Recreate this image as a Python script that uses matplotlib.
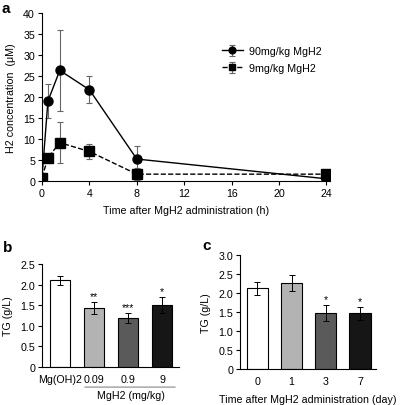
import matplotlib
matplotlib.use("Agg")
import matplotlib.pyplot as plt

plt.rcParams['font.family'] = ['Liberation Sans', 'DejaVu Sans']
plt.rcParams['font.size'] = 7.7

# panel a: H2 concentration time course
hours = [0, 0.5, 1.5, 4, 8, 24]
h2_90 = [0.8, 19.0, 26.3, 21.7, 5.2, 0.5]
h2_90_err = [0.0, 4.0, 9.6, 3.2, 3.1, 0.0]
h2_9 = [0.8, 5.5, 9.1, 7.0, 1.6, 1.6]
h2_9_err = [0.0, 0.0, 4.9, 1.8, 1.5, 0.0]

# panel b: TG by dose
dose_labels = ['Mg(OH)2', '0.09', '0.9', '9']
tg_dose = [2.10, 1.43, 1.20, 1.50]
tg_dose_err = [0.12, 0.15, 0.12, 0.20]
dose_stars = ['', '**', '***', '*']

# panel c: TG by day
day_labels = ['0', '1', '3', '7']
tg_day = [2.12, 2.27, 1.47, 1.47]
tg_day_err = [0.16, 0.21, 0.21, 0.17]
day_stars = ['', '', '*', '*']

bar_colors = ['white', '#b3b3b3', '#5a5a5a', '#161616']

fig = plt.figure(figsize=(4.0, 4.06), dpi=100)

# --- a ---
ax = fig.add_axes([0.105, 0.552, 0.72, 0.4138])
ax.errorbar(hours, h2_90, yerr=h2_90_err, fmt='-o', color='black', ms=6.5, lw=1,
            ecolor='#666666', elinewidth=0.8, capsize=2, capthick=0.8,
            label='90mg/kg MgH2', zorder=3)
ax.errorbar(hours, h2_9, yerr=h2_9_err, fmt='--s', color='black', ms=6.5, lw=1,
            ecolor='#666666', elinewidth=0.8, capsize=2, capthick=0.8,
            label='9mg/kg MgH2', zorder=4)
ax.set_xlim(0, 24.3)
ax.set_ylim(0, 40)
ax.set_xticks([0, 4, 8, 12, 16, 20, 24])
ax.set_yticks(range(0, 41, 5))
ax.spines['top'].set_visible(False)
ax.spines['right'].set_visible(False)
ax.set_xlabel('Time after MgH2 administration (h)', labelpad=5)
ax.set_ylabel('H2 concentration  (\u03bcM)', labelpad=5)
ax.tick_params(length=3, width=0.8, pad=2)
ax.legend(loc='upper left', bbox_to_anchor=(0.59, 0.86), frameon=False,
          handlelength=2.0, handletextpad=0.6, labelspacing=0.65, fontsize=7.7,
          markerscale=0.75)
fig.text(0.005, 0.968, 'a', fontsize=11, fontweight='bold', va='baseline')

# --- b ---
axb = fig.add_axes([0.105, 0.0936, 0.3425, 0.2537])
xb = range(len(tg_dose))
axb.bar(xb, tg_dose, width=0.59, color=bar_colors, edgecolor='black', lw=0.8,
        yerr=tg_dose_err, error_kw=dict(ecolor='black', elinewidth=0.7, capsize=2, capthick=0.7))
for i, s in enumerate(dose_stars):
    axb.text(i, tg_dose[i] + tg_dose_err[i] + 0.02, s, ha='center', va='bottom', fontsize=7.7)
axb.set_xlim(-0.53, 3.5)
axb.set_ylim(0, 2.5)
axb.set_yticks([0, 0.5, 1.0, 1.5, 2.0, 2.5])
axb.set_yticklabels(['0', '0.5', '1.0', '1.5', '2.0', '2.5'])
axb.set_xticks(list(xb))
axb.set_xticklabels(dose_labels)
axb.spines['top'].set_visible(False)
axb.spines['right'].set_visible(False)
axb.tick_params(axis='x', length=0, pad=5)
axb.tick_params(axis='y', length=3, width=0.8, pad=2)
axb.set_ylabel('TG (g/L)', labelpad=5)
axb.annotate('', xy=(0.65, -0.195), xytext=(3.47, -0.195), xycoords=('data', 'axes fraction'),
             textcoords=('data', 'axes fraction'),
             arrowprops=dict(arrowstyle='-', color='#888888', lw=0.8))
axb.text(2.09, -0.225, 'MgH2 (mg/kg)', transform=axb.get_xaxis_transform(),
         ha='center', va='top', fontsize=7.7)
fig.text(0.008, 0.379, 'b', fontsize=11, fontweight='bold', va='baseline')

# --- c ---
axc = fig.add_axes([0.6, 0.0887, 0.34, 0.2808])
xc = range(len(tg_day))
axc.bar(xc, tg_day, width=0.62, color=bar_colors, edgecolor='black', lw=0.8,
        yerr=tg_day_err, error_kw=dict(ecolor='black', elinewidth=0.7, capsize=2, capthick=0.7))
for i, s in enumerate(day_stars):
    axc.text(i, tg_day[i] + tg_day_err[i] + 0.02, s, ha='center', va='bottom', fontsize=7.7)
axc.set_xlim(-0.51, 3.47)
axc.set_ylim(0, 3.0)
axc.set_yticks([0, 0.5, 1.0, 1.5, 2.0, 2.5, 3.0])
axc.set_yticklabels(['0', '0.5', '1.0', '1.5', '2.0', '2.5', '3.0'])
axc.set_xticks(list(xc))
axc.set_xticklabels(day_labels)
axc.spines['top'].set_visible(False)
axc.spines['right'].set_visible(False)
axc.tick_params(axis='x', length=0, pad=5)
axc.tick_params(axis='y', length=3, width=0.8, pad=2)
axc.set_ylabel('TG (g/L)', labelpad=5)
axc.set_xlabel('Time after MgH2 administration (day)', labelpad=6)
fig.text(0.505, 0.384, 'c', fontsize=11, fontweight='bold', va='baseline')

fig.savefig('out.png', dpi=100)
